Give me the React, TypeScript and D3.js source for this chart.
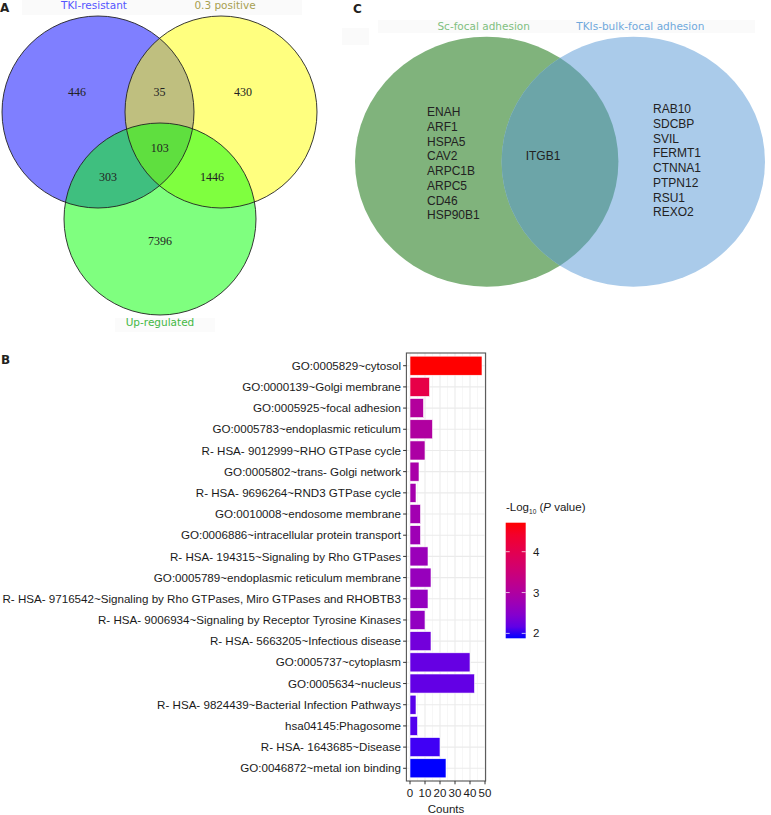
import React from "react";
import * as d3 from "d3";

// ---------- Panel A data ----------
const setNamesA = ["TKI-resistant", "0.3 positive", "Up-regulated"];
const setColorsA = ["#0000ff", "#ffff00", "#00ff00"];
const setLabelColorsA = ["#5555ff", "#a8a050", "#44b844"];
// region counts: onlyA, onlyB, onlyC, AB, AC, BC, ABC
const regionKeysA = ["A", "B", "C", "AB", "AC", "BC", "ABC"];
const regionCountsA = [446, 430, 7396, 35, 303, 1446, 103];

// ---------- Panel C data ----------
const setNamesC = ["Sc-focal adhesion", "TKIs-bulk-focal adhesion"];
const genesLeftOnly = ["ENAH", "ARF1", "HSPA5", "CAV2", "ARPC1B", "ARPC5", "CD46", "HSP90B1"];
const genesShared = ["ITGB1"];
const genesRightOnly = ["RAB10", "SDCBP", "SVIL", "FERMT1", "CTNNA1", "PTPN12", "RSU1", "REXO2"];

// ---------- Panel B data ----------
const terms = [
  "GO:0005829~cytosol",
  "GO:0000139~Golgi membrane",
  "GO:0005925~focal adhesion",
  "GO:0005783~endoplasmic reticulum",
  "R- HSA- 9012999~RHO GTPase cycle",
  "GO:0005802~trans- Golgi network",
  "R- HSA- 9696264~RND3 GTPase cycle",
  "GO:0010008~endosome membrane",
  "GO:0006886~intracellular protein transport",
  "R- HSA- 194315~Signaling by Rho GTPases",
  "GO:0005789~endoplasmic reticulum membrane",
  "R- HSA- 9716542~Signaling by Rho GTPases, Miro GTPases and RHOBTB3",
  "R- HSA- 9006934~Signaling by Receptor Tyrosine Kinases",
  "R- HSA- 5663205~Infectious disease",
  "GO:0005737~cytoplasm",
  "GO:0005634~nucleus",
  "R- HSA- 9824439~Bacterial Infection Pathways",
  "hsa04145:Phagosome",
  "R- HSA- 1643685~Disease",
  "GO:0046872~metal ion binding",
];
const counts = [48, 13, 9, 15, 10, 6, 4, 7, 7, 12, 14, 12, 10, 14, 40, 43, 4, 5, 20, 24];
const logP = [4.71, 4.1, 3.05, 3.0, 2.95, 2.9, 2.85, 2.8, 2.75, 2.7, 2.66, 2.63, 2.6, 2.3, 2.2, 2.18, 2.12, 2.08, 2.0, 1.88];
const xTicks = [0, 10, 20, 30, 40, 50];
const legendTicks = [2, 3, 4];

const SANS = "'Liberation Sans', Arial, sans-serif";
const VERD = "'DejaVu Sans', Verdana, sans-serif";

function VennA() {
  const r = 96;
  const centers: [number, number][] = [
    [98, 112],
    [221, 112],
    [160, 219],
  ];
  const mid = (i: number, j: number) => [
    (centers[i][0] + centers[j][0]) / 2,
    (centers[i][1] + centers[j][1]) / 2,
  ];
  const g = [
    (centers[0][0] + centers[1][0] + centers[2][0]) / 3,
    (centers[0][1] + centers[1][1] + centers[2][1]) / 3,
  ];
  const pos: Record<string, number[]> = {
    A: [centers[0][0] - 21, centers[0][1] - 20],
    B: [centers[1][0] + 22, centers[1][1] - 20],
    C: [centers[2][0], centers[2][1] + 22],
    AB: [mid(0, 1)[0], mid(0, 1)[1] - 20],
    AC: [mid(0, 2)[0] - 21, mid(0, 2)[1] + 11.5],
    BC: [mid(1, 2)[0] + 21.5, mid(1, 2)[1] + 11.5],
    ABC: [g[0], g[1]],
  };
  const labelPos = [
    [centers[0][0] - 4, 8.5],
    [centers[1][0] + 4, 8.5],
    [centers[2][0], centers[2][1] + r + 11],
  ];
  return (
    <g>
      <rect x={22} y={0} width={280} height={15} fill="#fafafa" />
      <rect x={115} y={318} width={100} height={14} fill="#fbfbfb" />
      {centers.map((c, i) => (
        <circle key={i} cx={c[0]} cy={c[1]} r={r} fill={setColorsA[i]} fillOpacity={0.5} />
      ))}
      {centers.map((c, i) => (
        <circle key={"s" + i} cx={c[0]} cy={c[1]} r={r} fill="none" stroke="#222" strokeWidth={0.9} />
      ))}
      {regionKeysA.map((k, i) => (
        <text
          key={k}
          x={pos[k][0]}
          y={pos[k][1] + 4}
          textAnchor="middle"
          fontFamily="'Liberation Serif', 'DejaVu Serif', serif"
          fontSize={12}
          fill="#222"
        >
          {regionCountsA[i]}
        </text>
      ))}
      {setNamesA.map((n, i) => (
        <text
          key={n}
          x={labelPos[i][0]}
          y={labelPos[i][1]}
          textAnchor="middle"
          fontFamily={VERD}
          fontSize={10.5}
          fill={setLabelColorsA[i]}
        >
          {n}
        </text>
      ))}
      <text x={0} y={11.7} fontFamily={VERD} fontWeight="bold" fontSize={12} fill="#231f20">
        A
      </text>
    </g>
  );
}

function VennC() {
  const rx = 131.7;
  const ry = 125;
  const cy = 161.7;
  const cxL = 486.7;
  const cxR = 633.3;
  const lineH = 14.7;
  return (
    <g>
      <defs>
        <clipPath id="clipL">
          <ellipse cx={cxL} cy={cy} rx={rx} ry={ry} />
        </clipPath>
      </defs>
      <rect x={378} y={20} width={377} height={13} fill="#fafafa" />
      <rect x={342} y={28} width={27} height={17} fill="#fafafa" />
      <ellipse cx={cxL} cy={cy} rx={rx} ry={ry} fill="#80b37c" />
      <ellipse cx={cxR} cy={cy} rx={rx} ry={ry} fill="#aacbea" />
      <ellipse cx={cxR} cy={cy} rx={rx} ry={ry} fill="#6ca5a8" clipPath="url(#clipL)" />
      <text x={cxL - 3} y={29.5} textAnchor="middle" fontFamily={VERD} fontSize={10.5} fill="#7fbf7f">
        {setNamesC[0]}
      </text>
      <text x={cxR + 7} y={29.5} textAnchor="middle" fontFamily={VERD} fontSize={10.5} fill="#6fa8dc">
        {setNamesC[1]}
      </text>
      {genesLeftOnly.map((gName, i) => (
        <text key={gName} x={427} y={112 + i * lineH + 4.3} fontFamily={SANS} fontSize={12} fill="#222">
          {gName}
        </text>
      ))}
      {genesShared.map((gName, i) => (
        <text key={gName} x={543} y={156 + i * lineH + 4.3} textAnchor="middle" fontFamily={SANS} fontSize={12} fill="#222">
          {gName}
        </text>
      ))}
      {genesRightOnly.map((gName, i) => (
        <text key={gName} x={653} y={109 + i * lineH + 4.3} fontFamily={SANS} fontSize={12} fill="#222">
          {gName}
        </text>
      ))}
      <text x={353} y={13} fontFamily={VERD} fontWeight="bold" fontSize={12} fill="#231f20">
        C
      </text>
    </g>
  );
}

function BarB() {
  const top = 353;
  const bottom = 781;
  const x = d3.scaleLinear().domain([-2.4, 50.4]).range([406.4, 485.6]);
  const y = d3.scalePoint<string>().domain(terms).range([top, bottom]).padding(0.6);
  const step = y.step();
  const bh = step * 0.9;
  const cmin = 1.88;
  const cmax = 4.71;
  const color = d3
    .scaleLinear<string>()
    .domain([cmin, cmax])
    .range(["#0000ff", "#ff0000"])
    .interpolate(d3.interpolateLab);
  const minor = [5, 15, 25, 35, 45];
  const ly = d3.scaleLinear().domain([cmin, cmax]).range([638.3, 522.7]);
  const lx0 = 505.7;
  const lw = 20;
  const stops = d3.range(0, 1.0001, 0.1);
  return (
    <g>
      <defs>
        <linearGradient id="lg" x1="0" y1="1" x2="0" y2="0">
          {stops.map((t) => (
            <stop key={t} offset={t} stopColor={color(cmin + t * (cmax - cmin))} />
          ))}
        </linearGradient>
      </defs>
      <text x={1} y={364} fontFamily={VERD} fontWeight="bold" fontSize={12} fill="#231f20">
        B
      </text>
      <rect x={x(-2.4)} y={top} width={x(50.4) - x(-2.4)} height={bottom - top} fill="#fff" />
      {minor.map((v) => (
        <line key={"m" + v} x1={x(v)} x2={x(v)} y1={top} y2={bottom} stroke="#f2f2f2" strokeWidth={0.6} />
      ))}
      {xTicks.map((v) => (
        <line key={"M" + v} x1={x(v)} x2={x(v)} y1={top} y2={bottom} stroke="#ebebeb" strokeWidth={1.1} />
      ))}
      {terms.map((t) => (
        <line key={"h" + t} x1={x(-2.4)} x2={x(50.4)} y1={y(t)} y2={y(t)} stroke="#ebebeb" strokeWidth={1.1} />
      ))}
      {terms.map((t, i) => (
        <rect
          key={"b" + t}
          x={x(0)}
          y={(y(t) as number) - bh / 2}
          width={x(counts[i]) - x(0)}
          height={bh}
          fill={color(logP[i])}
          stroke="#ffffff"
          strokeWidth={0.6}
        />
      ))}
      <rect
        x={x(-2.4)}
        y={top}
        width={x(50.4) - x(-2.4)}
        height={bottom - top}
        fill="none"
        stroke="#555"
        strokeWidth={1.1}
      />
      {terms.map((t) => (
        <g key={"l" + t}>
          <line x1={x(-2.4) - 3.3} x2={x(-2.4)} y1={y(t)} y2={y(t)} stroke="#333" strokeWidth={1} />
          <text
            x={401}
            y={(y(t) as number) + 4.1}
            textAnchor="end"
            fontFamily={SANS}
            fontSize={11.6}
            fill="#1a1a1a"
          >
            {t}
          </text>
        </g>
      ))}
      {xTicks.map((v) => (
        <g key={"xt" + v}>
          <line x1={x(v)} x2={x(v)} y1={bottom} y2={bottom + 3.3} stroke="#333" strokeWidth={1} />
          <text x={x(v)} y={797} textAnchor="middle" fontFamily={SANS} fontSize={11.5} fill="#1a1a1a">
            {v}
          </text>
        </g>
      ))}
      <text x={(x(-2.4) + x(50.4)) / 2} y={813} textAnchor="middle" fontFamily={SANS} fontSize={11.5} fill="#1a1a1a">
        Counts
      </text>
      {/* legend */}
      <text x={506} y={511} fontFamily={SANS} fontSize={11.5} fill="#1a1a1a">
        <tspan>-Log</tspan>
        <tspan fontSize={6.5} dy={2.5}>10</tspan>
        <tspan dy={-2.5}> (</tspan>
        <tspan fontStyle="italic">P</tspan>
        <tspan> value)</tspan>
      </text>
      <rect x={lx0} y={ly(cmax)} width={lw} height={ly(cmin) - ly(cmax)} fill="url(#lg)" />
      {legendTicks.map((v) => (
        <g key={"lt" + v}>
          <line x1={lx0} x2={lx0 + 4} y1={ly(v)} y2={ly(v)} stroke="#fff" strokeWidth={0.9} opacity={0.8} />
          <line x1={lx0 + lw - 4} x2={lx0 + lw} y1={ly(v)} y2={ly(v)} stroke="#fff" strokeWidth={0.9} opacity={0.8} />
          <text x={533} y={ly(v) + 4} fontFamily={SANS} fontSize={11.5} fill="#1a1a1a">
            {v}
          </text>
        </g>
      ))}
    </g>
  );
}

export default function App() {
  return (
    <svg
      width={771}
      height={815}
      viewBox="0 0 771 815"
      style={{ position: "absolute", left: 0, top: 0, background: "#fff" }}
    >
      <rect x={0} y={0} width={771} height={815} fill="#fff" />
      <VennA />
      <VennC />
      <BarB />
    </svg>
  );
}
